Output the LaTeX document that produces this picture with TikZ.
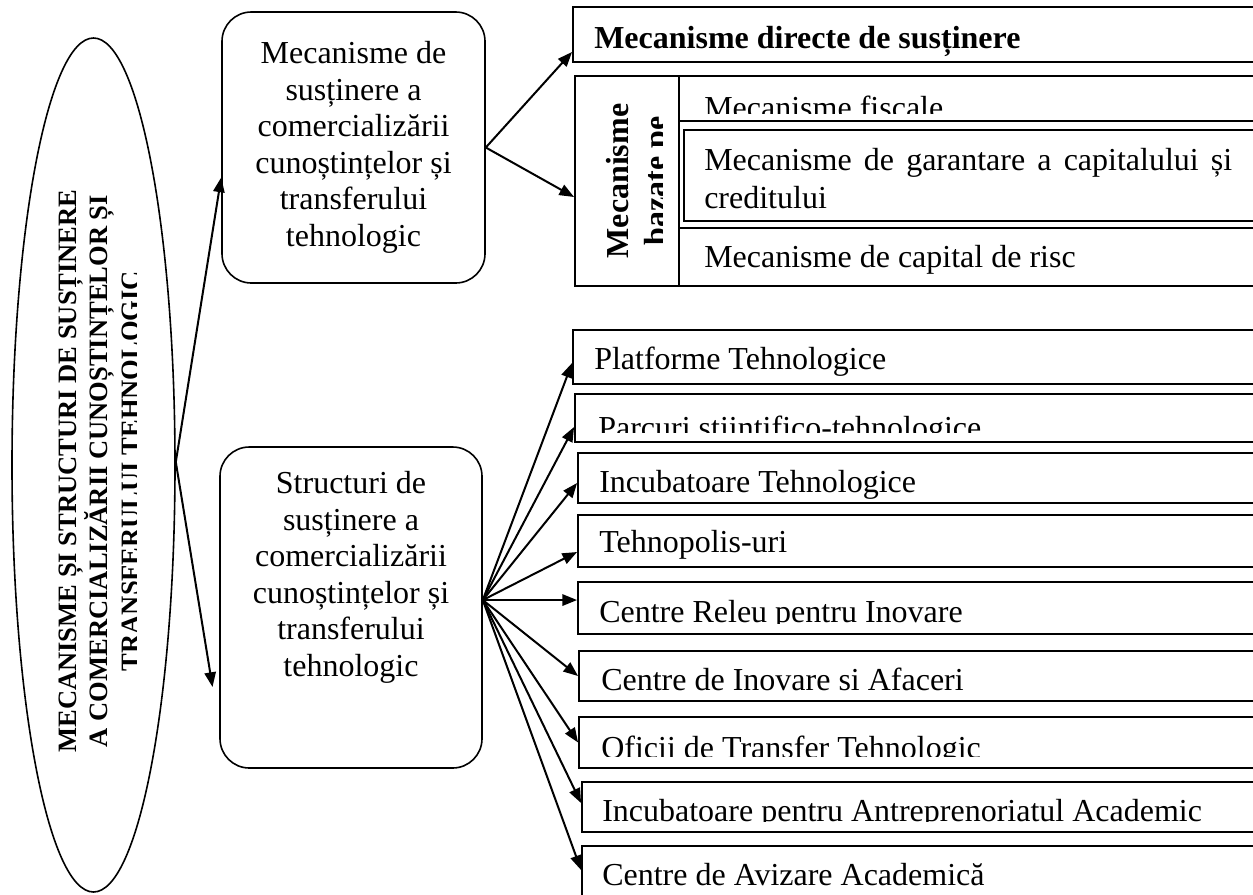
\documentclass[tikz,border=0pt]{standalone}
\usepackage{fontspec}
\setmainfont{Liberation Serif}
\usetikzlibrary{shapes.geometric,arrows.meta,fit,calc}
\begin{document}
\begin{tikzpicture}[x=0.75pt,y=-0.75pt,
  box/.style={draw, line width=1.4pt, inner sep=0pt, rectangle},
  rbox/.style={draw, line width=1.2pt, rounded corners=22pt, inner sep=0pt, rectangle},
  arr/.style={line width=1.5pt, -{Triangle[length=11pt,width=8.5pt]}},
  txt/.style={anchor=base west, inner sep=0pt, font=\fontsize{24}{27.6}\selectfont},
  ctxt/.style={align=center, inner sep=0pt, font=\fontsize{24}{27.4}\selectfont},
]
\useasboundingbox (0,0) rectangle (1253,894);
\clip (0,0) rectangle (1253,894);

% ellipse
\node[draw, ellipse, line width=1.2pt, minimum width=122.25pt, minimum height=640.5pt, inner sep=0pt] (ell) at (93.5,465) {};
\begin{scope}
\clip (0,0) rectangle (136,894);
\node[rotate=90, align=center, inner sep=0pt, font=\bfseries\fontsize{19.9}{23.6}\selectfont] (ellt) at (99,471)
  {MECANISME ȘI STRUCTURI DE SUSȚINERE\\A COMERCIALIZĂRII CUNOȘTINȚELOR ȘI\\TRANSFERULUI TEHNOLOGIC};
\end{scope}

% rounded boxes
\node[rbox, fit={(222,12) (485,283)}] (b1) {};
\node[ctxt] (b1t) at (b1.center) {Mecanisme de\\susținere a\\comercializării\\cunoștințelor și\\transferului\\tehnologic};
\node[rbox, fit={(220,447) (482,768)}] (b2) {};
\node[ctxt, anchor=north] (b2t) at (351,471) {Structuri de\\susținere a\\comercializării\\cunoștințelor și\\transferului\\tehnologic};

% top right group
\node[box, fit={(573,7) (1270,62)}] (mdir) {};
\node[txt, font=\bfseries\fontsize{24}{27.6}\selectfont] (mdirt) at (594,48) {Mecanisme directe de susținere};

\node[box, fit={(575,76) (1270,286)}] (mbaz) {};
\draw[line width=1.4pt] (679,76) -- (679,286);
\draw[line width=1.4pt] (679,121) -- (1270,121);
\draw[line width=1.4pt] (679,228) -- (1270,228);
\node[box, fit={(684,130) (1270,221)}] (mgar) {};
\begin{scope}
\clip (575,76) rectangle (662,286);
\node[rotate=90, align=center, inner sep=0pt, font=\bfseries\fontsize{24}{28.5}\selectfont] (mbazt) at (640,181) {Mecanisme\\bazate pe};
\end{scope}
\begin{scope}
\clip (679,76) rectangle (1270,113);
\node[txt] (fisc) at (704,118) {Mecanisme fiscale};
\end{scope}
\node[txt] (gar1) at (704,170) {\makebox[396pt][s]{Mecanisme de garantare a capitalului și}};
\node[txt] (gar2) at (704,208) {creditului};
\node[txt] (risc) at (704,267) {Mecanisme de capital de risc};

% bottom right group
\node[box, fit={(573,330) (1270,384)}] (plat) {};
\node[txt] (platt) at (594,369) {Platforme Tehnologice};
\node[box, fit={(575,394) (1270,442)}] (parc) {};
\begin{scope}
\clip (575,394) rectangle (1270,432);
\node[txt] (parct) at (598,438) {Parcuri științifico-tehnologice};
\end{scope}
\node[box, fit={(578,453) (1270,503)}] (inct) {};
\node[txt] (inctt) at (599,492) {Incubatoare Tehnologice};
\node[box, fit={(578,515) (1270,567)}] (tehn) {};
\node[txt] (tehnt) at (599,552) {Tehnopolis-uri};
\node[box, fit={(578,582) (1270,634)}] (rel) {};
\begin{scope}
\clip (578,582) rectangle (1270,623);
\node[txt] (relt) at (599,622) {Centre Releu pentru Inovare};
\end{scope}
\node[box, fit={(579,651) (1270,701)}] (inov) {};
\node[txt] (inovt) at (601,690) {Centre de Inovare si Afaceri};
\node[box, fit={(579,717) (1270,768)}] (ofic) {};
\begin{scope}
\clip (579,717) rectangle (1270,756);
\node[txt] (ofict) at (601,758) {Oficii de Transfer Tehnologic};
\end{scope}
\node[box, fit={(582,782) (1270,832)}] (inca) {};
\begin{scope}
\clip (582,782) rectangle (1270,821);
\node[txt] (incat) at (602,821) {Incubatoare pentru Antreprenoriatul Academic};
\end{scope}
\node[box, fit={(582,846) (1270,900)}] (aviz) {};
\node[txt] (avizt) at (602,885) {Centre de Avizare Academică};

% connectors
\coordinate (eo) at ([yshift=2.25pt]ell.east);
\draw[arr] (eo) -- ([yshift=-22.5pt]b1.west);
\draw[arr] (eo) -- ([xshift=-5pt,yshift=-59.6pt]b2.west);
\draw[arr] (b1.east) -- ([yshift=-13.1pt]mdir.west);
\draw[arr] (b1.east) -- ([yshift=-12pt]mbaz.west);
\coordinate (bo) at ([yshift=5.6pt]b2.east);
\draw[arr] (bo) -- ([yshift=-4.5pt]plat.west);
\draw[arr] (bo) -- ([yshift=-6.75pt]parc.west);
\draw[arr] (bo) -- ([yshift=-3.75pt]inct.west);
\draw[arr] (bo) -- ([yshift=-8.25pt]tehn.west);
\draw[arr] (bo) -- (rel.west |- bo);
\draw[arr] (bo) -- (inov.west);
\draw[arr] (bo) -- (ofic.west);
\draw[arr] (bo) -- ([yshift=3pt]inca.west);
\draw[arr] (bo) -- ([yshift=2.25pt]aviz.west);
\end{tikzpicture}
\end{document}
